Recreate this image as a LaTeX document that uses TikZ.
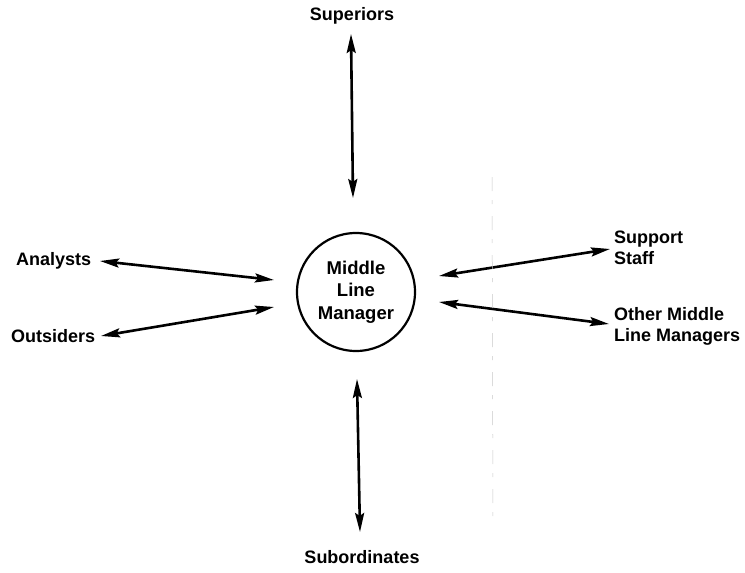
\documentclass[tikz,border=0pt]{standalone}
\usepackage{fontspec}
\setmainfont{Liberation Sans}
\usetikzlibrary{arrows.meta}
\begin{document}
\begin{tikzpicture}[x=1pt,y=-1pt,
  lbl/.style={font=\fontsize{18}{21}\selectfont\bfseries, inner sep=0pt, align=left},
  tipx/.style={Stealth[length=19pt,width=9pt,inset=3pt]},
  link/.style={line width=2.6pt, {Stealth[length=19pt,width=9pt,inset=3pt]}-{Stealth[length=19pt,width=9pt,inset=3pt]}}]
  \useasboundingbox (0,0) rectangle (745,573);

  % central role
  \node[draw, circle, line width=2.2pt, minimum size=118pt, inner sep=0pt,
        font=\fontsize{18.5}{22.5}\selectfont\bfseries, align=center]
        (mlm) at (356,292) {Middle\\Line\\Manager};

  % surrounding contacts
  \node[lbl, anchor=center] (sup) at (352,16) {Superiors};
  \node[lbl, anchor=center] (sub) at (362,557) {Subordinates};
  \node[lbl, anchor=west] (ana) at (16,261) {Analysts};
  \node[lbl, anchor=west] (out) at (11,336) {Outsiders};
  \node[lbl, anchor=west, align=left] (sst) at (614,248) {Support\\Staff};
  \node[lbl, anchor=west, align=left] (oml) at (614,326) {Other Middle\\Line Managers};

  % arrow end points
  \coordinate (supA) at (351,34);  \coordinate (supB) at (353,198);
  \coordinate (subA) at (357,379); \coordinate (subB) at (360,532);
  \coordinate (anaA) at (100,261); \coordinate (anaB) at (274,280);
  \coordinate (outA) at (101,336); \coordinate (outB) at (274,307);
  \coordinate (sstA) at (439,276); \coordinate (sstB) at (610,249);
  \coordinate (omlA) at (439,302); \coordinate (omlB) at (609,324);

  \draw[link] (supA) -- (supB);
  \draw[link] (subA) -- (subB);
  \draw[link] (anaA) -- (anaB);
  \draw[link] (outA) -- (outB);
  \draw[link] (sstA) -- (sstB);
  \draw[link] (omlA) -- (omlB);

  % faint broken fold line
  \draw[black!22, line width=0.5pt, dash pattern=on 14pt off 9pt on 4pt off 12pt]
    (492,177) -- (493,522);
\end{tikzpicture}
\end{document}
